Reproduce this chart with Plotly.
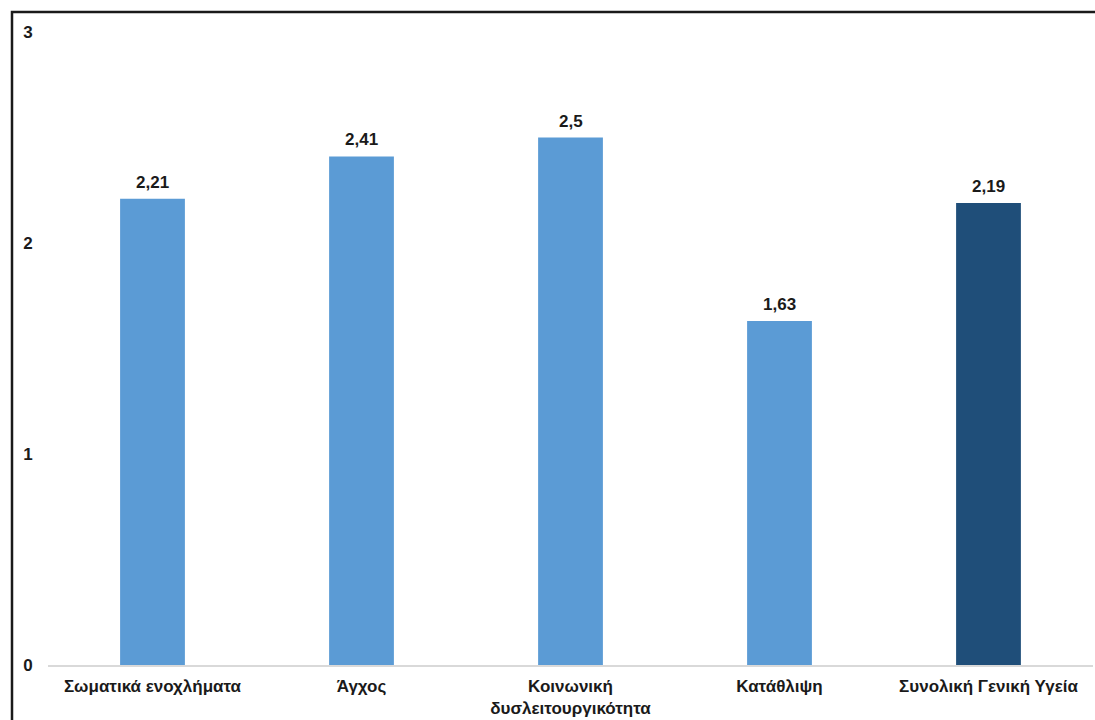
import plotly.graph_objects as go

categories = [
    "Σωματικά ενοχλήματα",
    "Άγχος",
    "Κοινωνική<br>δυσλειτουργικότητα",
    "Κατάθλιψη",
    "Συνολική Γενική Υγεία",
]
values = [2.21, 2.41, 2.5, 1.63, 2.19]
bar_colors = ["#5b9bd5", "#5b9bd5", "#5b9bd5", "#5b9bd5", "#1f4e79"]
y_ticks = [0, 1, 2, 3]

FONT = "Liberation Sans, Arial, sans-serif"
SIZE = 17

fig = go.Figure(
    go.Bar(
        x=categories,
        y=values,
        marker=dict(color=bar_colors, line=dict(width=0)),
    )
)

# value labels above each bar, Greek-style decimal comma
for cat, v in zip(categories, values):
    fig.add_annotation(
        x=cat,
        y=v,
        text=f"{v:g}".replace(".", ","),
        showarrow=False,
        yanchor="bottom",
        yshift=5,
        font=dict(family=FONT, size=SIZE, color="#1a1a1a", weight="bold"),
    )

# plot area spans x 48..1093, y 32..665 in a 1095x720 page
L, R, T, B = 48, 2, 32, 55
W, H = 1095, 720
pw, ph = W - L - R, H - T - B


def px_x(p):
    return (p - L) / pw


def px_y(p):
    return (H - B - p) / ph


fig.update_layout(
    width=W,
    height=H,
    margin=dict(l=L, r=R, t=T, b=B),
    paper_bgcolor="white",
    plot_bgcolor="white",
    bargap=0.69,
    showlegend=False,
    font=dict(family=FONT, size=SIZE, color="#1a1a1a"),
    xaxis=dict(
        showgrid=False,
        showline=True,
        linecolor="#d9d9d9",
        linewidth=1.5,
        ticks="",
        ticklabelstandoff=5,
        tickfont=dict(family=FONT, size=SIZE, color="#1a1a1a", weight="bold"),
    ),
    yaxis=dict(
        range=[0, 3],
        tickvals=y_ticks,
        showgrid=False,
        showline=False,
        zeroline=False,
        ticks="outside",
        ticklen=11,
        tickcolor="rgba(0,0,0,0)",
        tickfont=dict(family=FONT, size=SIZE, color="#1a1a1a", weight="bold"),
    ),
    shapes=[
        dict(
            type="rect",
            xref="paper",
            yref="paper",
            x0=px_x(12),
            x1=px_x(1105),
            y0=px_y(730),
            y1=px_y(12),
            line=dict(color="#1a1a1a", width=2.5),
            fillcolor="rgba(0,0,0,0)",
            layer="above",
        )
    ],
)

fig.write_html("out.html")
